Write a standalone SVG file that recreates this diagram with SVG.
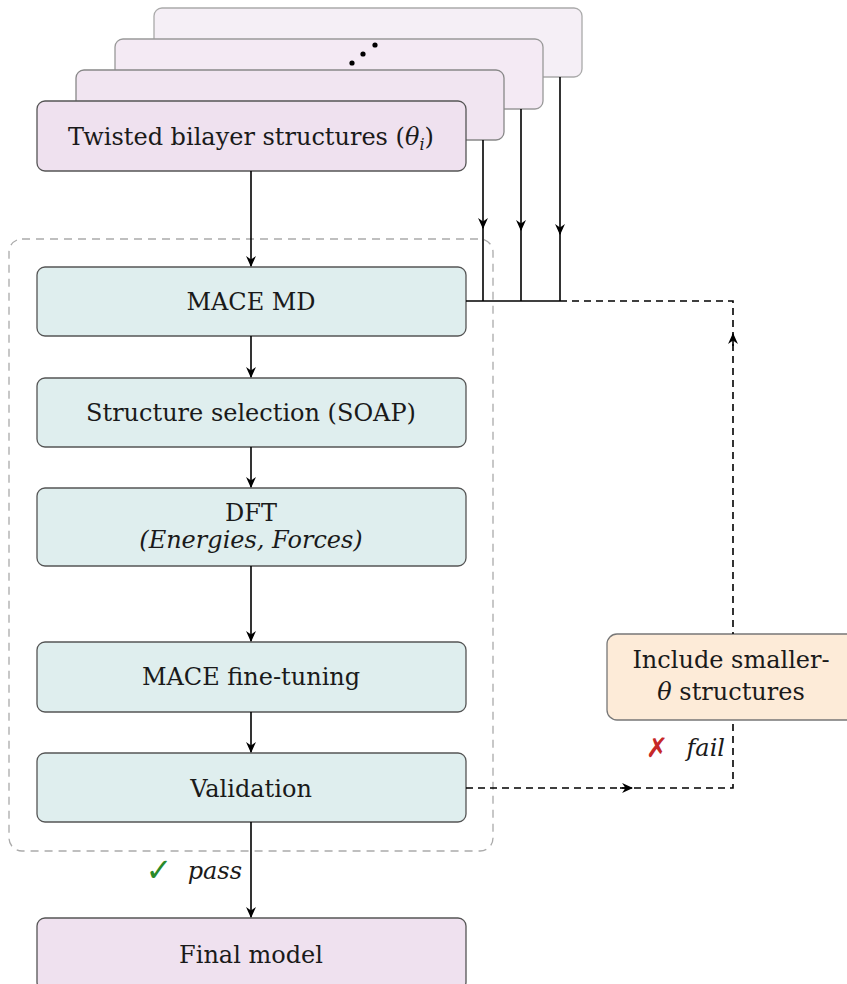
<svg xmlns="http://www.w3.org/2000/svg" width="847" height="984" viewBox="0 0 847 984">
<defs>
<style>
.t{font-family:"DejaVu Serif",serif;font-size:24px;fill:#1a1a1a;text-anchor:middle}
.it{font-style:italic}
.teal{fill:#dfeeee;stroke:#555;stroke-width:1.3}
.pink{fill:#efe1ef;stroke:#555;stroke-width:1.3}
.ln{fill:none;stroke:#000;stroke-width:1.6}
.dl{fill:none;stroke:#000;stroke-width:1.6;stroke-dasharray:7,5}
</style>
<marker id="ah" viewBox="0 0 10 10" refX="9" refY="5" markerWidth="11" markerHeight="11" markerUnits="userSpaceOnUse" orient="auto">
<path d="M0,0.5 L10,5 L0,9.5 L3,5 z" fill="#000"/>
</marker>
</defs>
<g id="loop-frame">
<rect x="9" y="239" width="484" height="612" rx="13" fill="none" stroke="#aaa" stroke-width="1.3" stroke-dasharray="8,6"/>
</g>
<g id="stack-3">
<rect x="154" y="8" width="428" height="69" rx="8" fill="#f5eff6" stroke="#aaa" stroke-width="1.3"/>
</g>
<g id="stack-2">
<rect x="115" y="39" width="428" height="70" rx="8" fill="#f4eaf4" stroke="#999" stroke-width="1.3"/>
<circle cx="352" cy="63" r="2.6" fill="#000"/>
<circle cx="363" cy="54" r="2.6" fill="#000"/>
<circle cx="375" cy="45" r="2.6" fill="#000"/>
</g>
<g id="stack-1">
<rect x="76" y="70" width="428" height="70" rx="8" fill="#f1e5f1" stroke="#888" stroke-width="1.3"/>
</g>
<g id="twisted">
<rect class="pink" x="37" y="101" width="429" height="70" rx="8"/>
<text class="t" x="251" y="145" font-size="23">Twisted bilayer structures (<tspan class="it">θ</tspan><tspan class="it" font-size="16" dy="5">i</tspan><tspan dy="-5">)</tspan></text>
</g>
<g id="mace-md">
<rect class="teal" x="37" y="267" width="429" height="69" rx="8"/>
<text class="t" x="251" y="310">MACE MD</text>
</g>
<g id="selection">
<rect class="teal" x="37" y="378" width="429" height="69" rx="8"/>
<text class="t" x="251" y="421">Structure selection (SOAP)</text>
</g>
<g id="dft">
<rect class="teal" x="37" y="488" width="429" height="78" rx="8"/>
<text class="t" x="251" y="521">DFT</text>
<text class="t it" x="251" y="548" font-size="17.5">(Energies, Forces)</text>
</g>
<g id="finetune">
<rect class="teal" x="37" y="642" width="429" height="70" rx="8"/>
<text class="t" x="251" y="685">MACE fine-tuning</text>
</g>
<g id="validation">
<rect class="teal" x="37" y="753" width="429" height="69" rx="8"/>
<text class="t" x="251" y="797">Validation</text>
</g>
<g id="final">
<rect class="pink" x="37" y="918" width="429" height="72" rx="8"/>
<text class="t" x="251" y="963">Final model</text>
</g>
<g id="include">
<rect x="607" y="634" width="250" height="86" rx="10" fill="#fdebd8" stroke="#777" stroke-width="1.3"/>
<text class="t" x="731" y="668">Include smaller-</text>
<text class="t" x="731" y="700"><tspan class="it">θ</tspan> structures</text>
</g>
<g id="connectors">
<path class="ln" d="M251,171 V266" marker-end="url(#ah)"/>
<path class="ln" d="M251,336 V377" marker-end="url(#ah)"/>
<path class="ln" d="M251,447 V487" marker-end="url(#ah)"/>
<path class="ln" d="M251,566 V641" marker-end="url(#ah)"/>
<path class="ln" d="M251,712 V752" marker-end="url(#ah)"/>
<path class="ln" d="M251,822 V917" marker-end="url(#ah)"/>
<path class="ln" d="M483,140 V228" marker-end="url(#ah)"/>
<path class="ln" d="M483,226 V301"/>
<path class="ln" d="M521,109 V230" marker-end="url(#ah)"/>
<path class="ln" d="M521,228 V301"/>
<path class="ln" d="M560,77 V234" marker-end="url(#ah)"/>
<path class="ln" d="M560,232 V301"/>
<path class="ln" d="M466,301 H560"/>
<path class="dl" d="M560,301 H733 V634"/>
<path class="ln" d="M733,346 V334" marker-end="url(#ah)"/>
<path class="dl" d="M466,788 H733 V720"/>
<path class="ln" d="M620,788 H632" marker-end="url(#ah)"/>
</g>
<g id="labels">
<text x="657" y="757" font-family="DejaVu Sans, sans-serif" font-size="27" font-weight="bold" fill="#c62828" text-anchor="middle">✗</text>
<text x="725" y="756" font-family="DejaVu Serif, serif" font-size="24" font-style="italic" fill="#1a1a1a" text-anchor="end">fail</text>
<text x="159" y="881" font-family="DejaVu Sans, sans-serif" font-size="32" font-weight="bold" fill="#2a8a2a" text-anchor="middle">✓</text>
<text x="242" y="879" font-family="DejaVu Serif, serif" font-size="24" font-style="italic" fill="#1a1a1a" text-anchor="end">pass</text>
</g>
</svg>
